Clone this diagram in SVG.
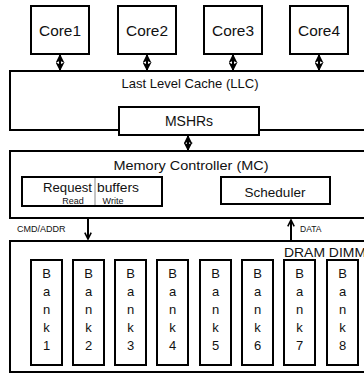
<svg xmlns="http://www.w3.org/2000/svg" width="364" height="375" viewBox="0 0 364 375">
<defs>
<style>
.box{fill:#fff;stroke:#000;stroke-width:2}
.t{font-family:"Liberation Sans",Arial,sans-serif;fill:#111}
.c{text-anchor:middle}
.conn{stroke:#000;stroke-width:2;fill:none}
</style>
<marker id="dh" viewBox="0 0 8 8" refX="7" refY="4" markerWidth="4.5" markerHeight="4.5" orient="auto-start-reverse" markerUnits="strokeWidth">
<path d="M0,0 L8,4 L0,8 L2,4 Z" fill="#000"/>
</marker>
<marker id="open" viewBox="0 0 10 10" refX="9" refY="5" markerWidth="4" markerHeight="4" orient="auto" markerUnits="strokeWidth">
<path d="M1,1 L9,5 L1,9" fill="none" stroke="#000" stroke-width="2"/>
</marker>
</defs>
<rect width="364" height="375" fill="#fff"/>

<g id="llc">
<rect class="box" x="10" y="71" width="362" height="59"/>
<text class="t c" x="190" y="88" font-size="13" textLength="137" lengthAdjust="spacingAndGlyphs">Last Level Cache (LLC)</text>
</g>
<g id="mshrs">
<rect class="box" x="119" y="107" width="140" height="28"/>
<text class="t c" x="189" y="126" font-size="14">MSHRs</text>
</g>

<g id="core1"><rect class="box" x="31" y="6" width="58" height="48"/><text class="t c" x="60" y="36" font-size="15.5" textLength="42" lengthAdjust="spacingAndGlyphs">Core1</text></g>
<g id="core2"><rect class="box" x="118" y="6" width="58" height="48"/><text class="t c" x="147" y="36" font-size="15.5" textLength="42" lengthAdjust="spacingAndGlyphs">Core2</text></g>
<g id="core3"><rect class="box" x="204" y="6" width="58" height="48"/><text class="t c" x="233" y="36" font-size="15.5" textLength="42" lengthAdjust="spacingAndGlyphs">Core3</text></g>
<g id="core4"><rect class="box" x="290" y="6" width="58" height="48"/><text class="t c" x="319" y="36" font-size="15.5" textLength="42" lengthAdjust="spacingAndGlyphs">Core4</text></g>

<g id="mc">
<rect class="box" x="10" y="151" width="362" height="67"/>
<text class="t c" x="191" y="170" font-size="13.5" textLength="155" lengthAdjust="spacingAndGlyphs">Memory Controller (MC)</text>
</g>
<g id="reqbuf">
<rect class="box" x="22" y="177" width="140" height="29"/>
<line x1="95" y1="178" x2="95" y2="205" stroke="#888" stroke-width="1"/>
<text class="t" x="92" y="192" font-size="13.5" text-anchor="end" textLength="49" lengthAdjust="spacingAndGlyphs">Request</text>
<text class="t" x="97" y="192" font-size="13.5" textLength="42" lengthAdjust="spacingAndGlyphs">buffers</text>
<text class="t c" x="73" y="204" font-size="9">Read</text>
<text class="t c" x="113" y="204" font-size="9">Write</text>
</g>
<g id="scheduler">
<rect class="box" x="221" y="177" width="109" height="27"/>
<text class="t c" x="275" y="197" font-size="13.5">Scheduler</text>
</g>

<g id="dimm">
<rect class="box" x="10" y="241" width="362" height="131"/>
<text class="t" x="284" y="257" font-size="13" textLength="82" lengthAdjust="spacingAndGlyphs">DRAM DIMM</text>
</g>
<g id="bank1"><rect class="box" x="31" y="260" width="31" height="105"/><text class="t c" x="46.5" font-size="13"><tspan x="46.5" y="278">B</tspan><tspan x="46.5" y="296">a</tspan><tspan x="46.5" y="314">n</tspan><tspan x="46.5" y="332">k</tspan><tspan x="46.5" y="350">1</tspan></text></g>
<g id="bank2"><rect class="box" x="73" y="260" width="31" height="105"/><text class="t c" x="88.5" font-size="13"><tspan x="88.5" y="278">B</tspan><tspan x="88.5" y="296">a</tspan><tspan x="88.5" y="314">n</tspan><tspan x="88.5" y="332">k</tspan><tspan x="88.5" y="350">2</tspan></text></g>
<g id="bank3"><rect class="box" x="115" y="260" width="31" height="105"/><text class="t c" x="130.5" font-size="13"><tspan x="130.5" y="278">B</tspan><tspan x="130.5" y="296">a</tspan><tspan x="130.5" y="314">n</tspan><tspan x="130.5" y="332">k</tspan><tspan x="130.5" y="350">3</tspan></text></g>
<g id="bank4"><rect class="box" x="157" y="260" width="31" height="105"/><text class="t c" x="172.5" font-size="13"><tspan x="172.5" y="278">B</tspan><tspan x="172.5" y="296">a</tspan><tspan x="172.5" y="314">n</tspan><tspan x="172.5" y="332">k</tspan><tspan x="172.5" y="350">4</tspan></text></g>
<g id="bank5"><rect class="box" x="200" y="260" width="31" height="105"/><text class="t c" x="215.5" font-size="13"><tspan x="215.5" y="278">B</tspan><tspan x="215.5" y="296">a</tspan><tspan x="215.5" y="314">n</tspan><tspan x="215.5" y="332">k</tspan><tspan x="215.5" y="350">5</tspan></text></g>
<g id="bank6"><rect class="box" x="242" y="260" width="31" height="105"/><text class="t c" x="257.5" font-size="13"><tspan x="257.5" y="278">B</tspan><tspan x="257.5" y="296">a</tspan><tspan x="257.5" y="314">n</tspan><tspan x="257.5" y="332">k</tspan><tspan x="257.5" y="350">6</tspan></text></g>
<g id="bank7"><rect class="box" x="284" y="260" width="31" height="105"/><text class="t c" x="299.5" font-size="13"><tspan x="299.5" y="278">B</tspan><tspan x="299.5" y="296">a</tspan><tspan x="299.5" y="314">n</tspan><tspan x="299.5" y="332">k</tspan><tspan x="299.5" y="350">7</tspan></text></g>
<g id="bank8"><rect class="box" x="327" y="260" width="31" height="105"/><text class="t c" x="342.5" font-size="13"><tspan x="342.5" y="278">B</tspan><tspan x="342.5" y="296">a</tspan><tspan x="342.5" y="314">n</tspan><tspan x="342.5" y="332">k</tspan><tspan x="342.5" y="350">8</tspan></text></g>

<g id="connectors">
<line class="conn" x1="60" y1="55" x2="60" y2="70" marker-start="url(#dh)" marker-end="url(#dh)"/>
<line class="conn" x1="147" y1="55" x2="147" y2="70" marker-start="url(#dh)" marker-end="url(#dh)"/>
<line class="conn" x1="233" y1="55" x2="233" y2="70" marker-start="url(#dh)" marker-end="url(#dh)"/>
<line class="conn" x1="319" y1="55" x2="319" y2="70" marker-start="url(#dh)" marker-end="url(#dh)"/>
<line class="conn" x1="188" y1="136" x2="188" y2="150" marker-start="url(#dh)" marker-end="url(#dh)"/>
<line class="conn" x1="88" y1="219" x2="88" y2="239" marker-end="url(#open)"/>
<line class="conn" x1="291" y1="240" x2="291" y2="220" marker-end="url(#open)"/>
<text class="t" x="17" y="232" font-size="9">CMD/ADDR</text>
<text class="t" x="300" y="232" font-size="8.5">DATA</text>
</g>
</svg>
